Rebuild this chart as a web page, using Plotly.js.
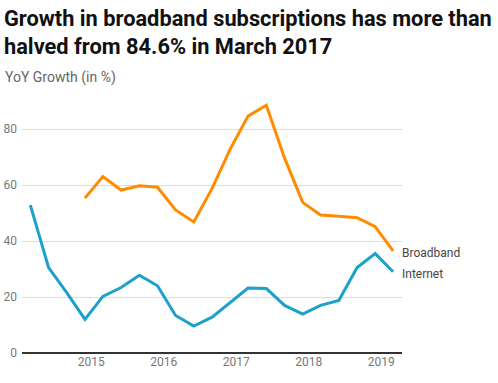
<!DOCTYPE html>
<html>
<head>
<meta charset="utf-8">
<script src="https://cdn.plot.ly/plotly-3.0.1.min.js"></script>
<style>html,body{margin:0;padding:0;background:#fff;}#chart{width:498px;height:383px;}</style>
</head>
<body>
<div id="chart"></div>
<script>
const internetDates = ['2014-03-01','2014-06-01','2014-09-01','2014-12-01','2015-03-01','2015-06-01','2015-09-01','2015-12-01','2016-03-01','2016-06-01','2016-09-01','2016-12-01','2017-03-01','2017-06-01','2017-09-01','2017-12-01','2018-03-01','2018-06-01','2018-09-01','2018-12-01','2019-03-01'];
const internetValues = [52.8, 30.5, 21.5, 12.0, 20.2, 23.4, 27.8, 24.0, 13.4, 9.6, 12.8, 17.9, 23.2, 23.0, 17.0, 13.9, 17.0, 18.8, 30.5, 35.5, 29.0];
const broadbandDates = ['2014-12-01','2015-03-01','2015-06-01','2015-09-01','2015-12-01','2016-03-01','2016-06-01','2016-09-01','2016-12-01','2017-03-01','2017-06-01','2017-09-01','2017-12-01','2018-03-01','2018-06-01','2018-09-01','2018-12-01','2019-03-01'];
const broadbandValues = [55.3, 63.0, 58.2, 59.7, 59.2, 51.1, 46.8, 58.8, 72.8, 84.6, 88.5, 69.6, 53.8, 49.3, 48.8, 48.3, 45.1, 36.5];
const yTicks = [0, 20, 40, 60, 80];
const xTickVals = ['2015-01-01','2016-01-01','2017-01-01','2018-01-01','2019-01-01'];
const xTickText = ['2015','2016','2017','2018','2019'];

const orange = '#ff8c00';
const blue = '#1ba1cc';

const traces = [
  {x: broadbandDates, y: broadbandValues, type: 'scatter', mode: 'lines', name: 'Broadband',
   line: {color: orange, width: 3}, hoverinfo: 'skip'},
  {x: internetDates, y: internetValues, type: 'scatter', mode: 'lines', name: 'Internet',
   line: {color: blue, width: 3}, hoverinfo: 'skip'}
];

const layout = {
  width: 498, height: 383,
  margin: {l: 22, r: 96, t: 101, b: 30},
  paper_bgcolor: '#fff', plot_bgcolor: '#fff',
  showlegend: false,
  font: {family: 'Roboto, sans-serif', color: '#333'},
  xaxis: {
    type: 'date',
    range: ['2014-01-18', '2019-04-15'],
    tickmode: 'array', tickvals: xTickVals, ticktext: xTickText,
    showgrid: false, zeroline: false, showline: false, ticks: '',
    tickfont: {size: 12, color: '#777'}, fixedrange: true
  },
  yaxis: {
    range: [0, 90],
    tickmode: 'array', tickvals: yTicks,
    showgrid: true, gridcolor: '#dcdcdc', gridwidth: 1,
    zeroline: true, zerolinecolor: '#333', zerolinewidth: 1.5,
    showline: false, ticks: '',
    tickfont: {size: 12, color: '#777'}, ticklabelstandoff: 4, fixedrange: true
  },
  annotations: [
    {xref: 'paper', yref: 'paper', x: -0.052, y: 1.384, xanchor: 'left', yanchor: 'top', align: 'left',
     text: '<b>Growth in broadband subscriptions has more than<br>halved from 84.6% in March 2017</b>',
     showarrow: false, font: {family: 'Roboto, sans-serif', size: 21.8, color: '#111'}},
    {xref: 'paper', yref: 'paper', x: -0.05, y: 1.092, xanchor: 'left', yanchor: 'middle',
     text: 'YoY Growth (in %)', showarrow: false, font: {size: 14, color: '#666'}},
    {x: broadbandDates[broadbandDates.length - 1], y: broadbandValues[broadbandValues.length - 1],
     xanchor: 'left', yanchor: 'middle', xshift: 7, yshift: -2, text: 'Broadband', showarrow: false,
     font: {size: 12, color: '#444'}},
    {x: internetDates[internetDates.length - 1], y: internetValues[internetValues.length - 1],
     xanchor: 'left', yanchor: 'middle', xshift: 7, yshift: -2, text: 'Internet', showarrow: false,
     font: {size: 12, color: '#444'}}
  ]
};

Plotly.newPlot('chart', traces, layout, {displayModeBar: false, staticPlot: true});
</script>
</body>
</html>
